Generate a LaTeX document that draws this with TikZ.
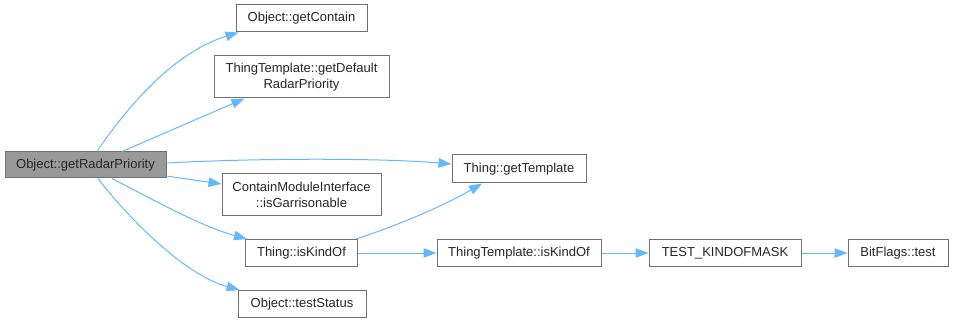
\documentclass[tikz,border=0pt]{standalone}
\usepackage{fontspec}
\setmainfont{Liberation Sans}
\usetikzlibrary{arrows.meta,calc}
\definecolor{edgeblue}{HTML}{63B8FF}
\definecolor{boxline}{HTML}{707070}
\definecolor{rootfill}{HTML}{999999}
\begin{document}
\begin{tikzpicture}[x=1pt,y=-1pt,
  fn/.style={draw=boxline,line width=1pt,fill=white,inner sep=0pt,
    align=center,font=\fontsize{13}{16}\selectfont,text=black!85},
  rootfn/.style={fn,fill=rootfill},
  call/.style={draw=edgeblue,line width=1pt,
    -{Triangle[length=13pt,width=9.5pt]}}]
\useasboundingbox (0,0) rectangle (953,323);

% functions
\node[rootfn,minimum width=161pt,minimum height=26pt] (root) at (85.5,165) {Object::getRadarPriority};
\node[fn,minimum width=131pt,minimum height=27pt] (gc) at (301.5,18.5) {Object::getContain};
\node[fn,minimum width=175pt,minimum height=42pt] (gdrp) at (301.5,77) {ThingTemplate::getDefault\\RadarPriority};
\node[fn,minimum width=134pt,minimum height=28pt] (gt) at (519,169) {Thing::getTemplate};
\node[fn,minimum width=159pt,minimum height=42pt] (ig) at (301.5,194.5) {ContainModuleInterface\\::isGarrisonable};
\node[fn,minimum width=112pt,minimum height=27pt] (tik) at (301.5,253) {Thing::isKindOf};
\node[fn,minimum width=128pt,minimum height=27pt] (ts) at (302,304) {Object::testStatus};
\node[fn,minimum width=164pt,minimum height=27pt] (ttik) at (519,253) {ThingTemplate::isKindOf};
\node[fn,minimum width=152pt,minimum height=27pt] (tkm) at (725,253) {TEST\_KINDOFMASK};
\node[fn,minimum width=100pt,minimum height=27pt] (bft) at (898,253) {BitFlags::test};

% calls from Object::getRadarPriority
\draw[call] ($(root.north)+(11.5,0)$) .. controls (115,125) and (165,55) .. ($(gc.south west)+(3,0)$);
\draw[call] ($(root.north)+(36.5,0)$) -- ($(gdrp.south west)+(31,0)$);
\draw[call] ($(root.east)+(0,-2)$) .. controls (260,158) and (380,158) .. ($(gt.west)+(0,-5)$);
\draw[call] ($(root.east)+(0,11)$) -- ($(ig.west)+(0,-10.5)$);
\draw[call] ($(root.south)+(26.5,0)$) .. controls (150,198) and (200,226) .. ($(tik.north west)+(2,0)$);
\draw[call] ($(root.south)+(12.5,0)$) .. controls (130,220) and (185,275) .. ($(ts.north west)+(2,0)$);

% calls further down
\draw[call] ($(tik.north east)+(-2,0)$) .. controls (390,228) and (440,208) .. ($(gt.south)+(-37,0)$);
\draw[call] (tik) -- (ttik);
\draw[call] (ttik) -- (tkm);
\draw[call] (tkm) -- (bft);
\end{tikzpicture}
\end{document}
